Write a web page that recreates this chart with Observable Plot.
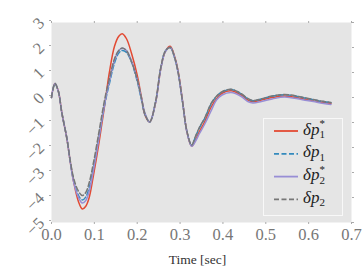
<!DOCTYPE html>
<html><head><meta charset="utf-8">
<script src="https://cdn.jsdelivr.net/npm/d3@7"></script>
<script src="https://cdn.jsdelivr.net/npm/@observablehq/plot@0.6"></script>
<style>
html,body{margin:0;padding:0;background:#fff;}
svg text{font-family:"Liberation Serif", "DejaVu Serif", serif !important;}
g[aria-label$="tick label"] text{font-size:16.5px !important;}
</style>
</head><body><div id="chart"></div>
<script>
const times = [0, 0.008, 0.016, 0.024, 0.036, 0.044, 0.052, 0.063, 0.072, 0.080, 0.088, 0.098, 0.110, 0.118, 0.125, 0.135, 0.147, 0.157, 0.165, 0.175, 0.187, 0.200, 0.210, 0.218, 0.229, 0.243, 0.255, 0.266, 0.277, 0.288, 0.296, 0.306, 0.316, 0.327, 0.336, 0.345, 0.358, 0.372, 0.385, 0.398, 0.419, 0.443, 0.458, 0.470, 0.490, 0.515, 0.544, 0.583, 0.622, 0.652];
const dp1Star = [0.0, 0.56, 0.25, -0.6, -1.65, -2.6, -3.4, -4.17, -4.46, -4.35, -4.0, -3.1, -1.9, -1.0, -0.2, 1.0, 2.05, 2.45, 2.55, 2.35, 1.75, 0.89, 0.0, -0.7, -0.98, -0.2, 1.16, 1.85, 2.05, 1.6, 1.0, -0.17, -1.37, -1.95, -1.7, -1.37, -0.95, -0.4, -0.05, 0.17, 0.27, 0.09, -0.1, -0.17, -0.1, 0.0, 0.06, -0.04, -0.17, -0.24];
const dp1 = [0.0, 0.56, 0.25, -0.6, -1.65, -2.6, -3.35, -3.92, -4.1, -3.98, -3.6, -2.8, -1.65, -0.85, -0.2, 0.55, 1.38, 1.78, 1.88, 1.8, 1.4, 0.65, -0.1, -0.68, -0.98, -0.17, 1.18, 1.86, 2.0, 1.55, 0.95, -0.2, -1.36, -1.92, -1.57, -1.22, -0.82, -0.27, 0.04, 0.22, 0.32, 0.14, -0.05, -0.13, -0.06, 0.05, 0.11, 0.01, -0.13, -0.21];
const dp2Star = [0.0, 0.56, 0.25, -0.6, -1.65, -2.6, -3.4, -4.0, -4.22, -4.12, -3.75, -2.9, -1.7, -0.85, -0.15, 0.65, 1.5, 1.88, 1.97, 1.88, 1.45, 0.72, -0.03, -0.62, -0.98, -0.2, 1.15, 1.85, 2.0, 1.55, 0.95, -0.2, -1.38, -1.95, -1.75, -1.45, -1.05, -0.55, -0.1, 0.1, 0.2, 0.04, -0.16, -0.22, -0.16, -0.06, 0.02, -0.08, -0.2, -0.28];
const dp2 = [0.0, 0.56, 0.25, -0.6, -1.65, -2.55, -3.25, -3.75, -3.92, -3.8, -3.4, -2.6, -1.45, -0.65, 0.0, 0.75, 1.55, 1.88, 1.98, 1.87, 1.42, 0.72, -0.03, -0.65, -0.98, -0.15, 1.2, 1.87, 2.0, 1.55, 0.95, -0.2, -1.35, -1.9, -1.55, -1.2, -0.8, -0.25, 0.05, 0.23, 0.33, 0.15, -0.04, -0.12, -0.05, 0.06, 0.12, 0.02, -0.12, -0.2];

const xTicks = [0, 0.1, 0.2, 0.3, 0.4, 0.5, 0.6, 0.7];
const yTicks = [-5, -4, -3, -2, -1, 0, 1, 2, 3];
const xLabel = "Time [sec]";
const seriesLabels = [["δp", "1", "*"], ["δp", "1", ""], ["δp", "2", "*"], ["δp", "2", ""]];
const colors = ["#E24A33", "#348ABD", "#988ED5", "#777777"];
const dashes = [null, "5,2.5", null, "5,2.5"];
const seriesValues = [dp1Star, dp1, dp2Star, dp2];

const lineMarks = seriesValues.map((vals, i) =>
  Plot.line(times.map((t, j) => ({t, v: vals[j]})), {
    x: "t", y: "v", stroke: colors[i], strokeWidth: 1.5,
    strokeDasharray: dashes[i], curve: "catmull-rom"
  }));

const minus = s => String(s).replace("-", "\u2212");

const chart = Plot.plot({
  width: 363, height: 273,
  marginLeft: 51, marginRight: 12, marginTop: 22, marginBottom: 51,
  style: {fontFamily: "'Liberation Serif', serif", fontSize: "15px", background: "#fff", overflow: "visible"},
  x: {domain: [0, 0.7]},
  y: {domain: [-5, 3]},
  marks: [
    Plot.frame({fill: "#e5e5e5", stroke: null}),
    ...lineMarks,
    Plot.axisX(xTicks, {anchor: "bottom", tickSize: 2, tickPadding: 4, stroke: "#aaa", fill: "#777",
      tickFormat: d3.format(".1f"), label: null}),
    Plot.axisX(xTicks, {anchor: "top", tickSize: 2, stroke: "#aaa", tickFormat: () => "", label: null}),
    Plot.axisY(yTicks, {anchor: "left", tickSize: 2, tickPadding: 8, tickRotate: -45, dy: -2,
      stroke: "#aaa", fill: "#777", tickFormat: minus, label: null}),
    Plot.axisY(yTicks, {anchor: "right", tickSize: 2, stroke: "#aaa", tickFormat: () => "", label: null})
  ]
});
document.getElementById("chart").appendChild(chart);

const svg = d3.select(chart);
// x-axis label
svg.append("text")
  .attr("x", 197.5).attr("y", 263.5)
  .attr("text-anchor", "middle")
  .attr("font-size", 13.5)
  .attr("fill", "#333")
  .text(xLabel);

// legend
const lg = svg.append("g");
lg.append("rect").attr("x", 263.5).attr("y", 118.5).attr("width", 79).attr("height", 97)
  .attr("fill", "#e5e5e5").attr("stroke", "#f8f8f8").attr("stroke-width", 1);
seriesLabels.forEach((lab, i) => {
  const y = 131 + i * 22.8;
  lg.append("line").attr("x1", 274).attr("x2", 298).attr("y1", y).attr("y2", y)
    .attr("stroke", colors[i]).attr("stroke-width", 1.8)
    .attr("stroke-dasharray", dashes[i]);
  const t = lg.append("text").attr("x", 314).attr("y", y + 3.5).attr("font-size", 17).attr("fill", "#222");
  t.append("tspan").attr("font-style", "italic").text(lab[0]);
  t.append("tspan").attr("font-size", 11).attr("dy", 3.5).text(lab[1]);
  if (lab[2]) t.append("tspan").attr("font-size", 11).attr("dx", -5.5).attr("dy", -11).text(lab[2]);
});
</script>
</body></html>
